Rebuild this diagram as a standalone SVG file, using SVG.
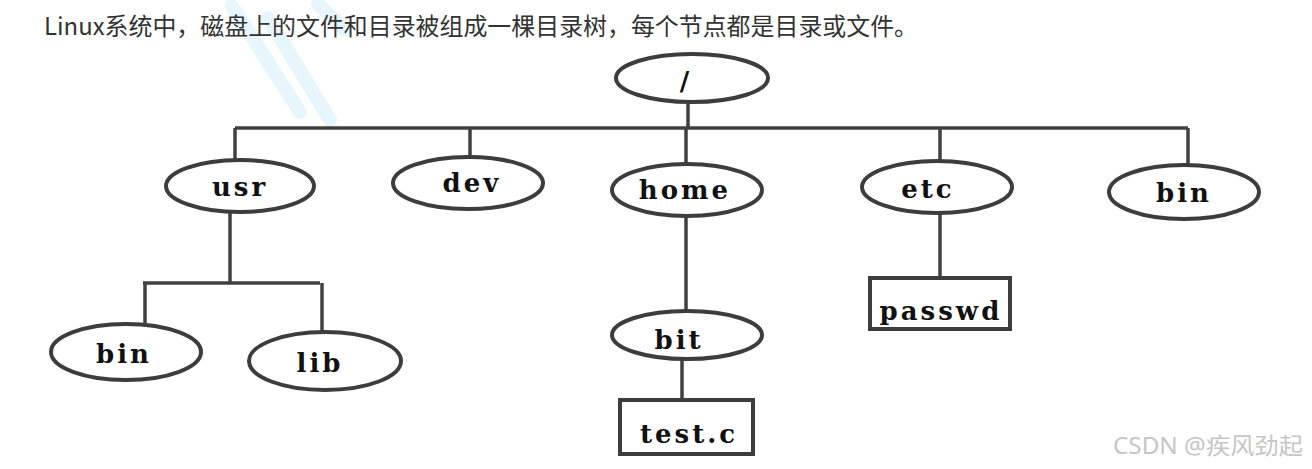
<svg xmlns="http://www.w3.org/2000/svg" width="1312" height="469" viewBox="0 0 1312 469">
<defs>
<filter id="soft" x="-5%" y="-5%" width="110%" height="110%"><feGaussianBlur stdDeviation="0.7"/></filter>
</defs>
<style>
.node{fill:#fff;stroke:#3c3c3c;stroke-width:4}
.lbl{font-family:"DejaVu Serif","Liberation Serif",serif;font-weight:bold;font-size:26px;fill:#111;text-anchor:middle;letter-spacing:3px}
.conn{stroke:#404040;stroke-width:3.5;fill:none}
.wm{stroke:#e2f4fc;stroke-width:14;fill:none;stroke-linecap:round}
</style>
<rect width="1312" height="469" fill="#fff"/>
<g id="watermark" opacity="0.8">
<path class="wm" d="M232 6 L300 112"/>
<path class="wm" d="M268 18 L330 120"/>
<path class="wm" d="M318 4 L345 30"/>
</g>
<text x="44" y="35" font-family="'Noto Sans CJK SC','Noto Sans',sans-serif" font-size="24" fill="#333" textLength="874" lengthAdjust="spacingAndGlyphs">Linux系统中，磁盘上的文件和目录被组成一棵目录树，每个节点都是目录或文件。</text>
<g id="connectors" filter="url(#soft)">
<path class="conn" d="M688 102 V128"/>
<path class="conn" d="M235 128 H1188"/>
<path class="conn" d="M235 128 V160"/>
<path class="conn" d="M470 128 V157"/>
<path class="conn" d="M686 128 V164"/>
<path class="conn" d="M940 128 V161"/>
<path class="conn" d="M1188 128 V166"/>
<path class="conn" d="M230 212 V283"/>
<path class="conn" d="M143 283 H320"/>
<path class="conn" d="M145 283 V323"/>
<path class="conn" d="M322 283 V333"/>
<path class="conn" d="M686 216 V312"/>
<path class="conn" d="M682 360 V400"/>
<path class="conn" d="M940 213 V277"/>
</g>
<g id="root" filter="url(#soft)"><ellipse class="node" cx="692" cy="78" rx="76" ry="24"/></g>
<text class="lbl" x="686" y="90" font-weight="normal">/</text>
<g id="usr"><ellipse class="node" cx="240" cy="186" rx="74" ry="26" filter="url(#soft)"/><text class="lbl" x="240" y="196">usr</text></g>
<g id="dev"><ellipse class="node" cx="468" cy="183" rx="75" ry="26" filter="url(#soft)"/><text class="lbl" x="472" y="192">dev</text></g>
<g id="home"><ellipse class="node" cx="687" cy="190" rx="75" ry="26" filter="url(#soft)"/><text class="lbl" x="685" y="199">home</text></g>
<g id="etc"><ellipse class="node" cx="937" cy="187" rx="75" ry="26" filter="url(#soft)"/><text class="lbl" x="928" y="198">etc</text></g>
<g id="bin-root"><ellipse class="node" cx="1184" cy="192" rx="75" ry="27" filter="url(#soft)"/><text class="lbl" x="1184" y="202">bin</text></g>
<g id="bin-usr"><ellipse class="node" cx="126" cy="352" rx="75" ry="28" filter="url(#soft)"/><text class="lbl" x="124" y="363">bin</text></g>
<g id="lib"><ellipse class="node" cx="325" cy="361" rx="76" ry="29" filter="url(#soft)"/><text class="lbl" x="320" y="372">lib</text></g>
<g id="bit"><ellipse class="node" cx="687" cy="335" rx="75" ry="24" filter="url(#soft)"/><text class="lbl" x="679" y="349">bit</text></g>
<g id="test-c"><rect class="node" x="620" y="400" width="133" height="54" filter="url(#soft)"/><text class="lbl" x="689" y="443">test.c</text></g>
<g id="passwd"><rect class="node" x="870" y="278" width="140" height="51" filter="url(#soft)"/><text class="lbl" x="941" y="320">passwd</text></g>
<text x="1113" y="454" font-family="'Noto Sans','Noto Sans CJK SC',sans-serif" font-size="23" fill="#c6c6c6" textLength="190" lengthAdjust="spacingAndGlyphs">CSDN @疾风劲起</text>
</svg>
